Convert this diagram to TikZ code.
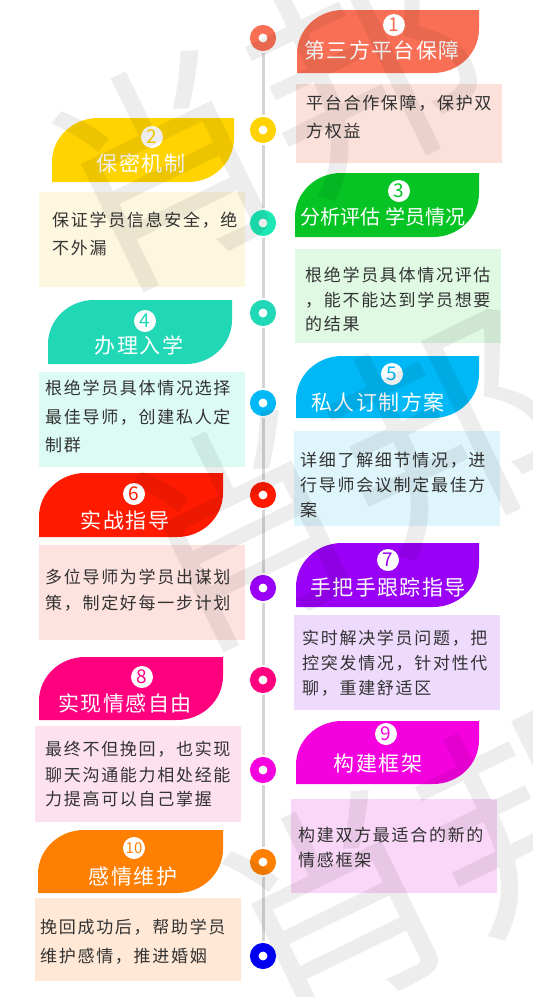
\documentclass[tikz,border=0pt]{standalone}
\usepackage{fontspec}
\newfontfamily\cjk{Noto Sans CJK SC}
\newfontfamily\cjkbody[LetterSpace=10]{Noto Sans CJK SC}
\newfontfamily\cjktitle[LetterSpace=7]{Noto Sans CJK SC}
\definecolor{hA}{HTML}{F96F55}\definecolor{bA}{HTML}{FCE1DB}
\definecolor{hB}{HTML}{FFD300}\definecolor{bB}{HTML}{FDF7E0}
\definecolor{hC}{HTML}{05C424}\definecolor{bC}{HTML}{DFF9E3}
\definecolor{hD}{HTML}{20D8B6}\definecolor{bD}{HTML}{DCFBF4}
\definecolor{hE}{HTML}{00B8F5}\definecolor{bE}{HTML}{DFF5FC}
\definecolor{hF}{HTML}{FF1A00}\definecolor{bF}{HTML}{FDE2E0}
\definecolor{hG}{HTML}{9900F5}\definecolor{bG}{HTML}{EEDAFC}
\definecolor{hH}{HTML}{FF007F}\definecolor{bH}{HTML}{FDE1EF}
\definecolor{hI}{HTML}{F500DF}\definecolor{bI}{HTML}{FAD6F8}
\definecolor{hJ}{HTML}{FF7F00}\definecolor{bJ}{HTML}{FFE8D5}
\definecolor{cC}{HTML}{1DE8B4}
\definecolor{cK}{HTML}{0000F0}
\definecolor{txt}{HTML}{333333}
\definecolor{linegray}{HTML}{D5D5D5}
\newcommand{\leafshape}[5]{\fill[#5] (#1,#4) -- (#1,#2+44) arc[start angle=180,end angle=270,x radius=46,y radius=44] -- (#3,#2) -- (#3,#4-44) arc[start angle=0,end angle=90,x radius=46,y radius=44] -- cycle;}
\tikzset{
  dot/.style={circle,draw=#1,line width=8.5pt,fill=white,minimum size=17.5pt,inner sep=0pt},
  numdisc/.style={circle,fill=white,text=#1,minimum size=22pt,inner sep=0pt,font=\cjk\fontsize{19}{19}\selectfont},
  title/.style={text=white,inner sep=0pt,font=\cjktitle\fontsize{21}{21}\selectfont},
  bodyline/.style={text=txt,anchor=west,inner sep=0pt,font=\cjkbody\fontsize{17}{17}\selectfont},
  conn/.style={draw=linegray,line width=3pt,shorten >=2pt,shorten <=2pt},
  wmark/.style={text=black,opacity=0.07,inner sep=0pt,rotate=26,font=\cjk\fontsize{225}{225}\selectfont}
}
\begin{document}
\begin{tikzpicture}[x=1pt,y=-1pt]
\useasboundingbox (0,0) rectangle (533,997);
\fill[white] (0,0) rectangle (533,997);
% timeline dots
\node[dot=hA] (c1) at (263,38) {};
\node[dot=hB] (c2) at (263,130) {};
\node[dot=cC] (c3) at (263,223) {};
\node[dot=hD] (c4) at (263,313) {};
\node[dot=hE] (c5) at (263,403) {};
\node[dot=hF] (c6) at (263,495) {};
\node[dot=hG] (c7) at (263,588) {};
\node[dot=hH] (c8) at (263,680) {};
\node[dot=hI] (c9) at (263,770) {};
\node[dot=hJ] (c10) at (263,862) {};
\node[dot=cK] (c11) at (263,956) {};
\foreach \a/\b in {c1/c2,c2/c3,c3/c4,c4/c5,c5/c6,c6/c7,c7/c8,c8/c9,c9/c10,c10/c11}
  \draw[conn] (\a) -- (\b);
% item 1
\leafshape{297}{10}{479}{73}{hA}
\node[numdisc=hA] (n1) at (394,25) {1};
\node[title] (t1) at (382,50) {第三方平台保障};
\fill[bA] (296,84) rectangle (502,163);
\node[bodyline] (b1a) at (306,103) {平台合作保障，保护双};
\node[bodyline] (b1b) at (306,131) {方权益};
% item 2
\leafshape{52}{118}{234}{182}{hB}
\node[numdisc=hB] (n2) at (152,137) {2};
\node[title] (t2) at (141,163) {保密机制};
\fill[bB] (39,192) rectangle (245,287);
\node[bodyline] (b2a) at (52,220) {保证学员信息安全，绝};
\node[bodyline] (b2b) at (52,248) {不外漏};
% item 3
\leafshape{295}{173}{479}{237}{hC}
\node[numdisc=hC] (n3) at (399,191) {3};
\node[text=white,inner sep=0pt,font=\cjk\fontsize{20}{20}\selectfont] (t3) at (383,217) {分析评估 学员情况};
\fill[bC] (295,249) rectangle (501,343);
\node[bodyline] (b3a) at (305,275) {根绝学员具体情况评估};
\node[bodyline] (b3b) at (305,300) {，能不能达到学员想要};
\node[bodyline] (b3c) at (305,324) {的结果};
% item 4
\leafshape{48}{300}{232}{364}{hD}
\node[numdisc=hD] (n4) at (145,321) {4};
\node[title] (t4) at (139,345) {办理入学};
\fill[bD] (39,372) rectangle (245,467);
\node[bodyline] (b4a) at (45,388) {根绝学员具体情况选择};
\node[bodyline] (b4b) at (45,417) {最佳导师，创建私人定};
\node[bodyline] (b4c) at (45,445) {制群};
% item 5
\leafshape{296}{356}{479}{418}{hE}
\node[numdisc=hE] (n5) at (392,374) {5};
\node[title] (t5) at (378,402) {私人订制方案};
\fill[bE] (294,431) rectangle (500,526);
\node[bodyline] (b5a) at (300,460) {详细了解细节情况，进};
\node[bodyline] (b5b) at (300,485) {行导师会议制定最佳方};
\node[bodyline] (b5c) at (300,510) {案};
% item 6
\leafshape{39}{473}{223}{537}{hF}
\node[numdisc=hF] (n6) at (134,494) {6};
\node[title] (t6) at (125,520) {实战指导};
\fill[bF] (39,545) rectangle (245,640);
\node[bodyline] (b6a) at (45,577) {多位导师为学员出谋划};
\node[bodyline] (b6b) at (45,603) {策，制定好每一步计划};
% item 7
\leafshape{296}{543}{479}{607}{hG}
\node[numdisc=hG] (n7) at (388,560) {7};
\node[title] (t7) at (388,587) {手把手跟踪指导};
\fill[bG] (294,615) rectangle (500,710);
\node[bodyline] (b7a) at (302,638) {实时解决学员问题，把};
\node[bodyline] (b7b) at (302,663) {控突发情况，针对性代};
\node[bodyline] (b7c) at (302,688) {聊，重建舒适区};
% item 8
\leafshape{39}{657}{223}{720}{hH}
\node[numdisc=hH] (n8) at (142,677) {8};
\node[title] (t8) at (125,703) {实现情感自由};
\fill[bH] (35,726) rectangle (241,822);
\node[bodyline] (b8a) at (45,749) {最终不但挽回，也实现};
\node[bodyline] (b8b) at (45,775) {聊天沟通能力相处经能};
\node[bodyline] (b8c) at (45,799) {力提高可以自己掌握};
% item 9
\leafshape{296}{721}{479}{784}{hI}
\node[numdisc=hI] (n9) at (386,734) {9};
\node[title] (t9) at (378,763) {构建框架};
\fill[bI] (291,799) rectangle (497,893);
\node[bodyline] (b9a) at (298,835) {构建双方最适合的新的};
\node[bodyline] (b9b) at (298,860) {情感框架};
% item 10
\leafshape{38}{830}{223}{893}{hJ}
\node[numdisc=hJ,font=\cjk\fontsize{15}{15}\selectfont] (n10) at (134,848) {10};
\node[title] (t10) at (133,877) {感情维护};
\fill[bJ] (35,898) rectangle (241,981);
\node[bodyline] (b10a) at (40,927) {挽回成功后，帮助学员};
\node[bodyline] (b10b) at (40,956) {维护感情，推进婚姻};
% watermark
\node[wmark] (w1) at (265,120) {肖邦};
\node[wmark] (w2) at (345,480) {肖邦};
\node[wmark] (w3) at (435,860) {肖邦};
\end{tikzpicture}
\end{document}
